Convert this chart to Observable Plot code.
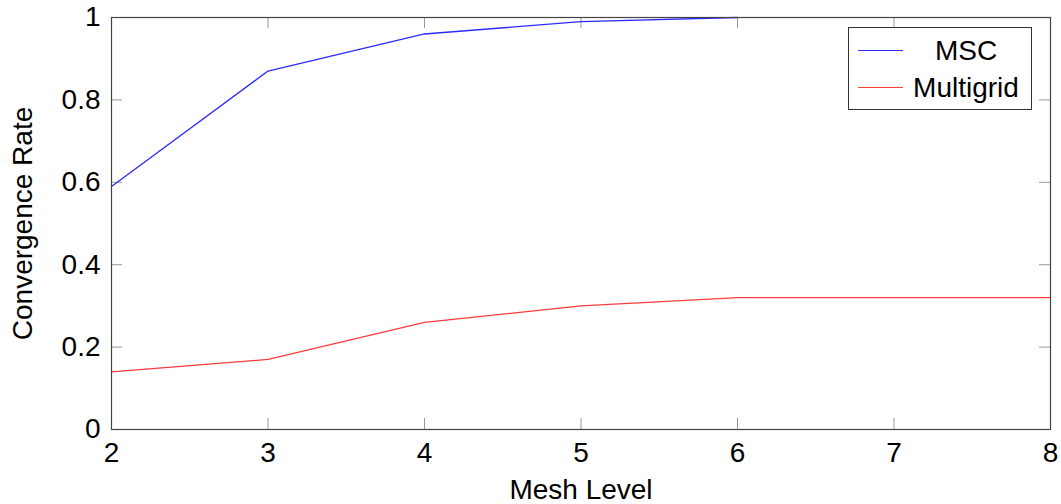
<!DOCTYPE html>
<html>
<head>
<meta charset="utf-8">
<script src="https://cdn.jsdelivr.net/npm/d3@7"></script>
<script src="https://cdn.jsdelivr.net/npm/@observablehq/plot@0.6"></script>
<style>
  html, body { margin: 0; padding: 0; background: #fff; }
  #wrap { position: relative; width: 1061px; height: 504px; font-family: "Liberation Sans", Arial, Helvetica, sans-serif; }
  #legend { position: absolute; left: 848px; top: 27px; width: 182px; height: 81px; border: 1px solid #333; background: #fff; box-sizing: content-box; }
  .row { position: absolute; left: 0; width: 182px; height: 37px; }
  .sw { position: absolute; left: 9px; top: 18px; width: 45px; height: 0; border-top: 1.3px solid; }
  .lab { position: absolute; left: 56px; width: 122px; text-align: center; font-size: 28px; line-height: 37px; color: #000; top: 0; }
</style>
</head>
<body>
<div id="wrap"></div>
<script>
const levels = [2, 3, 4, 5, 6, 7, 8];
const mscLevels = [2, 3, 4, 5, 6];
const mscValues = [0.59, 0.87, 0.96, 0.99, 1.0];
const multigridValues = [0.14, 0.17, 0.26, 0.30, 0.32, 0.32, 0.32];
const seriesNames = ["MSC", "Multigrid"];
const seriesColors = ["#2b2bff", "#ff3b3b"];
const xTicks = [2, 3, 4, 5, 6, 7, 8];
const xTickLabels = ["2", "3", "4", "5", "6", "7", "8"];
const yTicks = [0, 0.2, 0.4, 0.6, 0.8, 1];
const yTickLabels = ["0", "0.2", "0.4", "0.6", "0.8", "1"];

const rows = [
  ...mscLevels.map((l, i) => ({series: seriesNames[0], level: l, rate: mscValues[i]})),
  ...levels.map((l, i) => ({series: seriesNames[1], level: l, rate: multigridValues[i]}))
];

const W = 1061, H = 504, mL = 111, mR = 11, mT = 17, mB = 75;
const innerW = W - mL - mR, innerH = H - mT - mB;
const tickLen = 11;
const FS = 28;

const chart = Plot.plot({
  width: W, height: H,
  marginLeft: mL, marginRight: mR, marginTop: mT, marginBottom: mB,
  style: {fontFamily: '"Liberation Sans", Arial, Helvetica, sans-serif', fontSize: FS + "px", color: "#000", background: "#fff", overflow: "visible"},
  x: {domain: [2, 8], ticks: xTicks},
  y: {domain: [0, 1], ticks: yTicks},
  color: {domain: seriesNames, range: seriesColors},
  marks: [
    // inward ticks (bottom / top / left / right)
    Plot.tickX(xTicks, {x: d => d, insetTop: innerH - tickLen, stroke: "#999", strokeWidth: 1}),
    Plot.tickX(xTicks, {x: d => d, insetBottom: innerH - tickLen, stroke: "#999", strokeWidth: 1}),
    Plot.tickY(yTicks, {y: d => d, insetRight: innerW - tickLen, stroke: "#999", strokeWidth: 1}),
    Plot.tickY(yTicks, {y: d => d, insetLeft: innerW - tickLen, stroke: "#999", strokeWidth: 1}),
    Plot.line(rows, {x: "level", y: "rate", z: "series", stroke: "series", strokeWidth: 1.3}),
    Plot.frame({stroke: "#444", strokeWidth: 1.2}),
    Plot.axisX(xTicks, {tickSize: 0, tickPadding: 13, label: null, fill: "#000", fontSize: FS,
      tickFormat: d => xTickLabels[xTicks.indexOf(d)]}),
    Plot.axisY(yTicks, {tickSize: 0, tickPadding: 11, label: null, fill: "#000", fontSize: FS,
      tickFormat: d => yTickLabels[yTicks.indexOf(d)]}),
    Plot.text(["Mesh Level"], {frameAnchor: "bottom", textAnchor: "middle", lineAnchor: "middle", dy: 61, fill: "#000", fontSize: FS}),
    Plot.text(["Convergence Rate"], {frameAnchor: "left", textAnchor: "middle", lineAnchor: "middle", dx: -88, rotate: -90, fill: "#000", fontSize: FS})
  ]
});

const wrap = document.getElementById("wrap");
wrap.appendChild(chart);

const legend = document.createElement("div");
legend.id = "legend";
seriesNames.forEach((name, i) => {
  const row = document.createElement("div");
  row.className = "row";
  row.style.top = (4 + i * 37) + "px";
  const sw = document.createElement("div");
  sw.className = "sw";
  sw.style.borderTopColor = seriesColors[i];
  const lab = document.createElement("div");
  lab.className = "lab";
  lab.textContent = name;
  row.appendChild(sw);
  row.appendChild(lab);
  legend.appendChild(row);
});
wrap.appendChild(legend);
</script>
</body>
</html>
